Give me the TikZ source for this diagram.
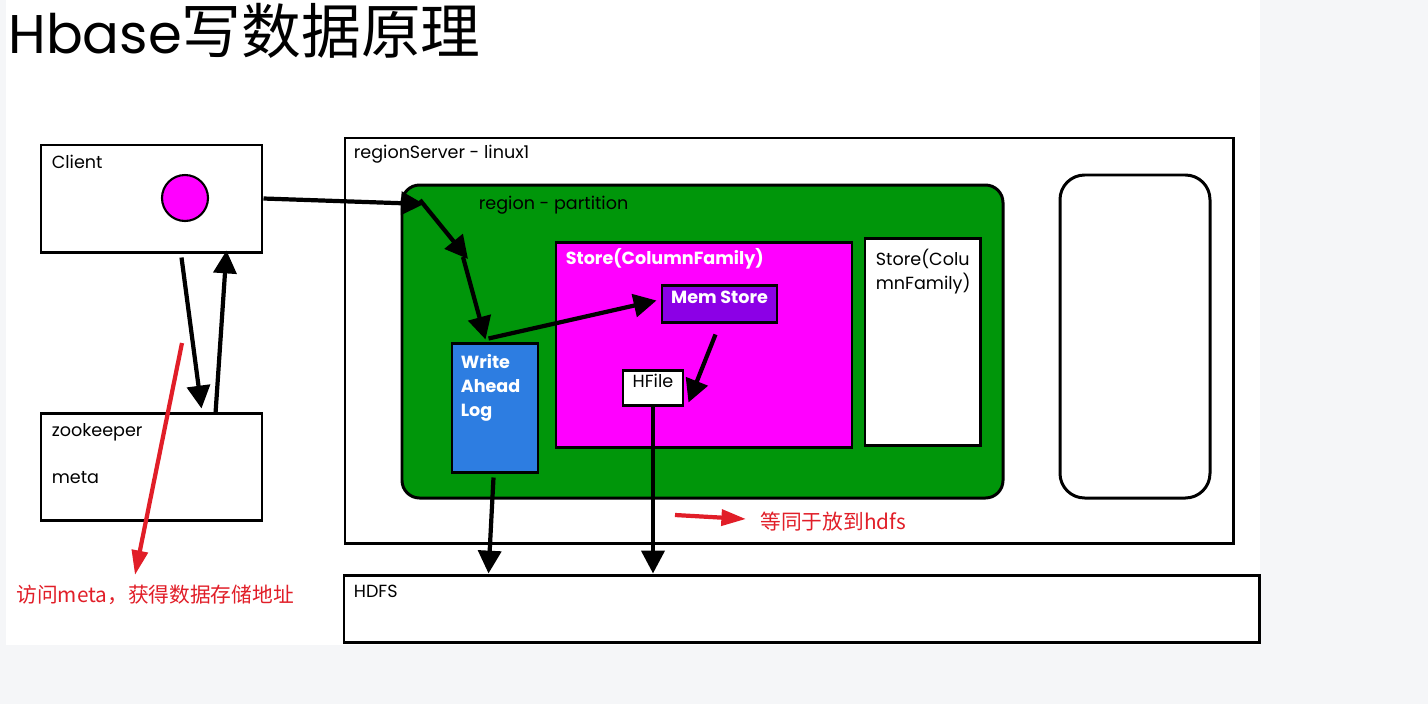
\documentclass[tikz,border=0pt]{standalone}
\usepackage{fontspec}
\setmainfont{Poppins}
\newfontfamily\cjk{Noto Sans CJK SC}
\usetikzlibrary{arrows.meta,fit}
\definecolor{bggray}{RGB}{245,246,248}
\definecolor{regiongreen}{RGB}{0,150,10}
\definecolor{storepink}{RGB}{255,0,255}
\definecolor{mempurple}{RGB}{140,0,230}
\definecolor{walblue}{RGB}{45,125,225}
\definecolor{notered}{RGB}{225,30,40}

\begin{document}
\begin{tikzpicture}[x=0.02cm,y=-0.02cm,
  box/.style={draw,line width=1.7pt,inner sep=0pt},
  lbl/.style={anchor=base west,inner sep=0pt,font=\fontsize{10}{13.6}\selectfont},
  boldlbl/.style={inner sep=0pt,font=\fontsize{10}{13.6}\selectfont\bfseries},
  arr/.style={line width=2.4pt,-{Triangle[length=13pt,width=13pt]}},
  redarr/.style={notered,line width=2.4pt,-{Triangle[length=14pt,width=9pt]}}]
\useasboundingbox (0,0) rectangle (1428,704);
% ---- sheet (grey page, white drawing)
\fill[bggray] (0,0) rectangle (1428,704);
\fill[white] (6,0) rectangle (1260,645);

% ---- title
\node[anchor=base west,inner sep=0pt] (title) at (8,53) {\fontsize{31}{36}\selectfont Hbase{\cjk\fontsize{34}{36}\selectfont 写数据原理}};

% ---- client and zookeeper
\node[box,fit={(41,145) (262,252)}] (client) {};
\node[lbl] (clienttxt) at ([shift={(12,25)}]client.north west) {Client};
\node[circle,draw,line width=1.2pt,fill=storepink,minimum size=0.92cm,inner sep=0pt] (dot) at (185,198) {};
\node[box,fit={(41,413) (262,520)}] (zoo) {};
\node[lbl] (zootxt) at ([shift={(12,25)}]zoo.north west) {zookeeper};
\node[lbl] (metatxt) at ([shift={(12,72)}]zoo.north west) {meta};

% ---- region server
\node[box,fit={(345,138) (1233,543)}] (server) {};
\node[lbl] (servertxt) at ([shift={(10,22)}]server.north west) {regionServer - linux1};
\node[box,rounded corners=10pt,fill=regiongreen,fit={(402,185) (1003,498)}] (region) {};
\node[lbl] (regiontxt) at ([shift={(78,26)}]region.north west) {region - partition};

\node[box,fill=storepink,fit={(556,242) (852,447)}] (store) {};
\node[boldlbl,anchor=base west,text=white] (storetxt) at ([shift={(11,24)}]store.north west) {Store(ColumnFamily)};
\node[box,fill=mempurple,fit={(662,285) (777,322)},boldlbl,text=white] (mem) {Mem Store};
\node[box,fill=white,fit={(623,370) (683,405)},font=\fontsize{10}{13.6}\selectfont] (hfile) {HFile};

\node[box,fill=walblue,fit={(452,343) (538,472)}] (wal) {};
\node[boldlbl,anchor=north west,align=left,text=white] (waltxt) at ([shift={(10,13)}]wal.north west) {Write\\Ahead\\Log};

\node[box,fill=white,fit={(865,238) (980,445)}] (store2) {};
\node[anchor=north west,align=left,inner sep=0pt,font=\fontsize{10}{13.6}\selectfont] (store2txt) at ([shift={(12,12)}]store2.north west) {Store(Colu\\mnFamily)};

\node[box,rounded corners=14pt,fit={(1060,175) (1210,498)}] (spare) {};

% ---- HDFS
\node[box,fit={(344,575) (1259,642)}] (hdfs) {};
\node[lbl] (hdfstxt) at ([shift={(11,24)}]hdfs.north west) {HDFS};

% ---- red notes
\node[anchor=west,inner sep=0pt,text=notered,font=\cjk\fontsize{11.8}{14}\selectfont] (metanote) at (16,595) {访问meta，获得数据存储地址};
\node[anchor=west,inner sep=0pt,text=notered,font=\cjk\fontsize{11.8}{14}\selectfont] (hdfsnote) at (760,522) {等同于放到hdfs};

% ---- write path
\coordinate (turn) at (424,204);
\coordinate (knee) at (468,259);
\draw[arr] (client.east) -- (turn);
\draw[arr] ([shift={(-4,-4)}]turn) -- (knee);
\draw[arr] ([shift={(-5,-2)}]knee) -- ([shift={(35,-2)}]wal.north west);
\draw[arr] ([shift={(38,-3)}]wal.north west) -- ([shift={(-4,-3)}]mem.west);
\draw[arr] ([shift={(-4,11)}]mem.south) -- ([shift={(4,-4)}]hfile.south east);
\draw[arr] ([shift={(43,4)}]wal.south west) -- ([shift={(146,0)}]hdfs.north west);
\draw[arr] (hfile.south) -- (hfile.south |- hdfs.north);

% ---- client <-> zookeeper
\draw[arr] ([shift={(142,4)}]client.south west) -- ([shift={(162,-3)}]zoo.north west);
\draw[arr] ([shift={(176,2)}]zoo.north west) -- ([shift={(187,-3)}]client.south west);

% ---- red pointers
\coordinate (metafrom) at (182,343);
\coordinate (hdfsfrom) at (675,515);
\draw[redarr] (metafrom) -- ([shift={(119,-20)}]metanote.west);
\draw[redarr] (hdfsfrom) -- ([shift={(-14,-3)}]hdfsnote.west);

\end{tikzpicture}
\end{document}
